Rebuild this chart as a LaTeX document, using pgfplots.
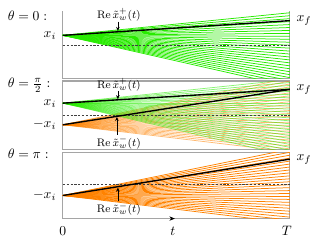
\documentclass[border=0pt]{standalone}
\usepackage{pgfplots}
\pgfplotsset{compat=1.18}
\usetikzlibrary{arrows.meta}
\definecolor{fgreen}{RGB}{40,235,0}
\definecolor{forange}{RGB}{255,130,0}
\definecolor{frame}{RGB}{165,165,165}
\begin{document}
\begin{tikzpicture}[x=0.72pt,y=-0.72pt]
\path (0,0) rectangle (316,245);
\coordinate (P1) at (64,11);
\coordinate (P2) at (64,82.5);
\coordinate (P3) at (64,155);
\pgfplotsset{panel/.style={anchor=north west, scale only axis, width=166.32pt,
  xmin=0, xmax=1, xtick=\empty, ytick=\empty,
  axis line style={frame, line width=0.9pt}, clip=true},
  fan/.style={line width=0.55pt, no marks},
  blk/.style={black, line width=1pt, no marks},
  dsh/.style={black!75, line width=0.45pt, dash pattern=on 1.6pt off 1.2pt, no marks}}
% ---------- panel 1 ----------
\begin{axis}[panel, at={(P1)}, height=49.68pt, ymin=-80, ymax=-11,
  axis x line*=bottom, axis y line*=box]
\pgfplotsinvokeforeach{13,16,19,22,25,28,31,34,37,40,43,46,49,52,55,58,61,64,67,70,73,76,79,82,85,88}{
  \addplot[fan, fgreen] coordinates {(0,-36) (1,-#1)};}
\addplot[dsh] coordinates {(0,-46) (1,-46)};
\addplot[blk] coordinates {(0,-36) (1,-21)};
\end{axis}
% ---------- panel 2 ----------
\begin{axis}[panel, at={(P2)}, height=50.4pt, ymin=-152.5, ymax=-82.5]
\pgfplotsinvokeforeach{79.5,82.5,85.5,88.5,91.5,94.5,97.5,100.5,103.5,106.5,109.5,112.5,115.5,118.5,121.5,124.5,127.5,130.5,133.5,136.5,139.5,142.5,145.5,148.5,151.5,154.5}{
  \addplot[fan, forange, opacity=0.55] coordinates {(0,-127) (1,-#1)};}
\pgfplotsinvokeforeach{81,84,87,90,93,96,99,102,105,108,111,114,117,120,123,126,129,132,135,138,141,144,147,150,153,156,159}{
  \addplot[fan, fgreen, opacity=0.55] coordinates {(0,-105) (1,-#1)};}
\addplot[dsh] coordinates {(0,-117) (1,-117)};
\addplot[blk] coordinates {(0,-105) (1,-91)};
\addplot[blk] coordinates {(0,-127) (1,-91)};
\end{axis}
% ---------- panel 3 ----------
\begin{axis}[panel, at={(P3)}, height=48.6pt, ymin=-222.5, ymax=-155]
\pgfplotsinvokeforeach{152,155,158,161,164,167,170,173,176,179,182,185,188,191,194,197,200,203,206,209,212,215,218,221,224,227}{
  \addplot[fan, forange] coordinates {(0,-199) (1,-#1)};}
\addplot[dsh] coordinates {(0,-188) (1,-188)};
\addplot[blk] coordinates {(0,-199) (1,-162)};
\end{axis}
% ---------- labels ----------
\node[anchor=west] at (3,16) {$\theta=0:$};
\node[anchor=west] at (3,87) {$\theta=\frac{\pi}{2}:$};
\node[anchor=west] at (3,157) {$\theta=\pi:$};
\node[anchor=east] at (62,36) {$x_i$};
\node[anchor=east] at (62,105) {$x_i$};
\node[anchor=east] at (62,127) {$-x_i$};
\node[anchor=east] at (62,199) {$-x_i$};
\node[anchor=west] at (297,21) {$x_f$};
\node[anchor=west] at (297,91) {$x_f$};
\node[anchor=west] at (297,162) {$x_f$};
\node[font=\footnotesize] at (121,15) {$\mathrm{Re}\,\tilde{x}_w^+(t)$};
\draw[line width=0.4pt,-{Stealth[length=3pt,width=2.6pt]}] (120,22) -- (120,31.5);
\node[font=\footnotesize] at (121,86) {$\mathrm{Re}\,\tilde{x}_w^+(t)$};
\draw[line width=0.4pt,-{Stealth[length=3pt,width=2.6pt]}] (120,92.5) -- (120,101);
\node[font=\footnotesize] at (121,145) {$\mathrm{Re}\,\tilde{x}_w^-(t)$};
\draw[line width=0.4pt,-{Stealth[length=3pt,width=2.6pt]}] (119,137) -- (119,119);
\node[font=\footnotesize] at (121,213) {$\mathrm{Re}\,\tilde{x}_w^-(t)$};
\draw[line width=0.4pt,-{Stealth[length=3pt,width=2.6pt]}] (120,205) -- (120,191);
\draw[black,line width=0.5pt,-{Stealth[length=4pt,width=3.2pt]}] (176,222.5) -- (178,222.5);
\node at (64,235) {$0$};
\node at (176,235) {$t$};
\node at (292,235) {$T$};
\end{tikzpicture}
\end{document}
